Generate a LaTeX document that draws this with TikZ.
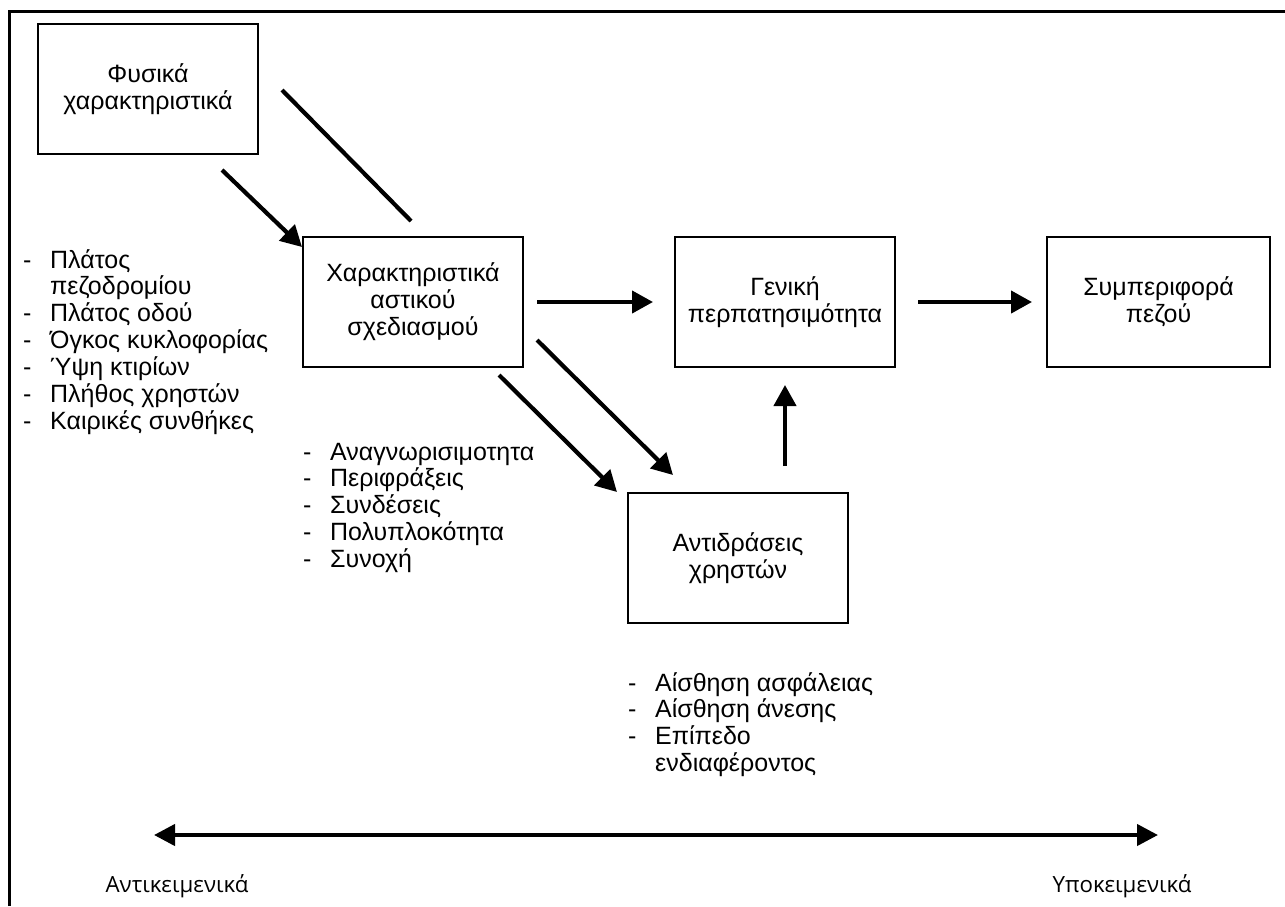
\documentclass[tikz,border=0pt]{standalone}
\usepackage{fontspec}
\setmainfont{Liberation Sans}
\newfontfamily\axisfont{Open Sans}
\usetikzlibrary{arrows.meta}
\begin{document}
\begin{tikzpicture}[x=1pt,y=-1pt,
  box/.style={draw, line width=2pt, minimum width=220pt, minimum height=130pt,
    inner sep=0pt, align=center, font=\fontsize{25}{27}\selectfont},
  arr/.style={line width=4.2pt, -{Triangle[length=21pt,width=22pt]}},
  bar/.style={line width=4.2pt},
  frame/.style={line width=3pt},
  list/.style={anchor=base west, inner sep=0pt, font=\fontsize{25}{26.7}\selectfont},
  axislabel/.style={font=\axisfont\fontsize{22.3}{26}\selectfont, inner sep=0pt}]
\newcommand{\itm}{\makebox[27pt][l]{-}}
\newcommand{\cnt}{\makebox[27pt][l]{}}

\useasboundingbox (0,0) rectangle (1285,906);

% outer frame (open at the right and bottom)
\draw[frame] (9,906) -- (9,11) -- (1285,11);

% boxes
\node[box] (b1) at (148,89) {Φυσικά\\χαρακτηριστικά};
\node[box] (b2) at (413,302) {Χαρακτηριστικά\\αστικού\\σχεδιασμού};
\node[box] (b3) at (785,302) {Γενική\\περπατησιμότητα};
\node[box, minimum width=223pt] (b4) at (1158.5,302) {Συμπεριφορά\\πεζού};
\node[box] (b5) at (738,558) {Αντιδράσεις\\χρηστών};

% bullet lists
\node[list] (l1) at (23,268) {\begin{tabular}[t]{@{}l@{}}
  \itm Πλάτος\\ \cnt πεζοδρομίου\\ \itm Πλάτος οδού\\ \itm Όγκος κυκλοφορίας\\
  \itm Ύψη κτιρίων\\ \itm Πλήθος χρηστών\\ \itm Καιρικές συνθήκες\end{tabular}};
\node[list] (l2) at (303,460) {\begin{tabular}[t]{@{}l@{}}
  \itm Αναγνωρισιμοτητα\\ \itm Περιφράξεις\\ \itm Συνδέσεις\\
  \itm Πολυπλοκότητα\\ \itm Συνοχή\end{tabular}};
\node[list] (l3) at (628,691) {\begin{tabular}[t]{@{}l@{}}
  \itm Αίσθηση ασφάλειας\\ \itm Αίσθηση άνεσης\\ \itm Επίπεδο\\
  \cnt ενδιαφέροντος\end{tabular}};

% free ends of the diagonal connectors
\coordinate (p1) at (222,170);
\coordinate (q1) at (302,247);
\coordinate (p0) at (282,90);
\coordinate (q0) at (411,221);
\coordinate (p2) at (537,340);
\coordinate (q2) at (673,475);
\coordinate (p3) at (499,375);
\coordinate (q3) at (617,492);

% connectors
\draw[arr] (p1) -- (q1);
\draw[bar] (p0) -- (q0);
\draw[arr, shorten <=13pt, shorten >=21pt] (b2.east) -- (b3.west);
\draw[arr, shorten <=22pt, shorten >=14pt] (b3.east) -- (b4.west);
\draw[arr] (p2) -- (q2);
\draw[arr] (p3) -- (q3);
\draw[arr, shorten <=26pt, shorten >=17pt] (b5.north -| b3.south) -- (b3.south);

% objective / subjective axis
\node[axislabel] (lo) at (177,886) {Αντικειμενικά};
\node[axislabel] (hi) at (1122,886) {Υποκειμενικά};
\coordinate (axL) at (154,835);
\coordinate (axR) at (1158,835);
\draw[line width=4.2pt, {Triangle[length=21pt,width=21pt]}-{Triangle[length=21pt,width=21pt]}] (axL) -- (axR);
\end{tikzpicture}
\end{document}
